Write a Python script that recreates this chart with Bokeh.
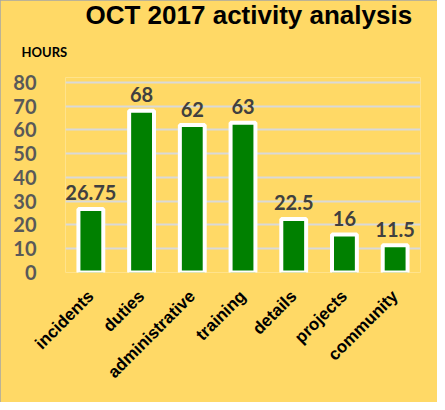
import math
from bokeh.plotting import figure
from bokeh.models import ColumnDataSource, Title, FixedTicker
from bokeh.core.properties import value
from bokeh.embed import file_html
from bokeh.resources import INLINE

categories = ["incidents", "duties", "administrative", "training", "details", "projects", "community"]
hours = [26.75, 68, 62, 63, 22.5, 16, 11.5]
value_labels = ["26.75", "68", "62", "63", "22.5", "16", "11.5"]
y_ticks = [0, 10, 20, 30, 40, 50, 60, 70, 80]

BG = "#FFD966"

p = figure(x_range=categories, y_range=(0, 82), width=437, height=402,
           output_backend="svg", toolbar_location=None,
           min_border_left=65, min_border_right=17, min_border_top=77, min_border_bottom=130)
p.background_fill_color = BG
p.border_fill_color = BG
p.outline_line_color = None
p.styles = {"outline": "1px solid #a6a6a6", "outline-offset": "-1px"}

src = ColumnDataSource(dict(cat=categories, hours=hours, lab=value_labels))
p.vbar(x="cat", top="hours", width=0.49, source=src, fill_color="#008000",
       line_color="white", line_width=4)
p.text(x="cat", y="hours", text="lab", source=src, text_align="center",
       text_baseline="alphabetic", y_offset=-16, text_font=value("Lato"),
       text_font_style="bold", text_font_size="20px", text_color="#404040")

p.xgrid.grid_line_color = None
p.ygrid.grid_line_color = "#D9D9D9"
p.ygrid.grid_line_width = 2
p.yaxis.ticker = FixedTicker(ticks=y_ticks)
for ax in (p.xaxis[0], p.yaxis[0]):
    ax.axis_line_color = None
    ax.major_tick_line_color = None
    ax.minor_tick_line_color = None
p.yaxis.major_label_text_font = "Lato"
p.yaxis.major_label_text_font_style = "bold"
p.yaxis.major_label_text_font_size = "20px"
p.yaxis.major_label_text_color = "#595959"
p.yaxis.major_label_standoff = 23
p.xaxis.major_label_orientation = math.pi / 4
p.xaxis.major_label_text_font = "Liberation Sans"
p.xaxis.major_label_text_font_style = "bold"
p.xaxis.major_label_text_font_size = "17px"
p.xaxis.major_label_text_color = "black"
p.xaxis.major_label_standoff = 15

p.title.text = "OCT  2017 activity analysis"
p.title.align = "left"
p.title.offset = 20
p.title.standoff = -11
p.title.text_font = "Liberation Sans"
p.title.text_font_style = "bold"
p.title.text_font_size = "26px"
p.title.text_color = "black"

p.add_layout(Title(text="HOURS", align="left", offset=-44, standoff=35,
                   text_font="Lato", text_font_style="bold",
                   text_font_size="13px", text_color="black"), "above")

open("out.html", "w").write(file_html(p, INLINE))
